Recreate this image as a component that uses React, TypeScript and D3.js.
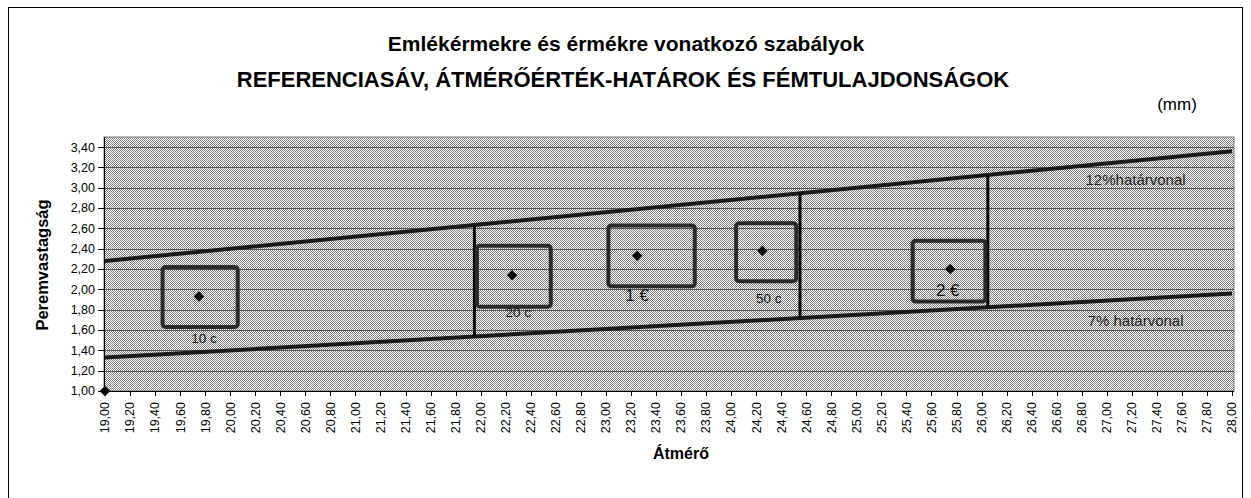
import React from 'react';
import * as d3 from 'd3';

// ---- data ----
const titleLine1 = 'Emlékérmekre és érmékre vonatkozó szabályok';
const titleLine2 = 'REFERENCIASÁV, ÁTMÉRŐÉRTÉK-HATÁROK ÉS FÉMTULAJDONSÁGOK';
const unitLabel = '(mm)';
const xAxisTitle = 'Átmérő';
const yAxisTitle = 'Peremvastagság';

const xTickLabels = [
  '19,00','19,20','19,40','19,60','19,80','20,00','20,20','20,40','20,60','20,80',
  '21,00','21,20','21,40','21,60','21,80','22,00','22,20','22,40','22,60','22,80',
  '23,00','23,20','23,40','23,60','23,80','24,00','24,20','24,40','24,60','24,80',
  '25,00','25,20','25,40','25,60','25,80','26,00','26,20','26,40','26,60','26,80',
  '27,00','27,20','27,40','27,60','27,80','28,00',
];
const yTickLabels = ['1,00','1,20','1,40','1,60','1,80','2,00','2,20','2,40','2,60','2,80','3,00','3,20','3,40'];

// coins
const coinNames = ['10 c', '20 c', '1 €', '50 c', '2 €'];
const coinDiameter = [19.75, 22.25, 23.25, 24.25, 25.75];
const coinThickness = [1.93, 2.14, 2.33, 2.38, 2.2];
const boxXMin = [19.46, 21.97, 23.02, 24.04, 25.45];
const boxXMax = [20.06, 22.56, 23.71, 24.52, 26.03];
const boxYMin = [1.63, 1.83, 2.03, 2.08, 1.88];
const boxYMax = [2.22, 2.43, 2.63, 2.65, 2.48];
const labelX = [19.79, 22.3, 23.25, 24.3, 25.73];
const labelY = [1.52, 1.77, 1.94, 1.91, 1.99];
const labelBig = [false, false, true, false, true];

// origin marker
const originPoint = [19.0, 1.0];

// reference (limit) lines
const refLineX = [19, 28];
const upperLimit = [2.28, 3.36]; // 12%
const lowerLimit = [1.33, 1.96]; // 7%
const upperLabel = '12%határvonal';
const lowerLabel = '7% határvonal';
const limitLabelX = 27.23;
const upperLabelY = 3.08;
const lowerLabelY = 1.69;

// boundary verticals
const boundaryX = [21.95, 24.55, 26.05];

export default function App() {
  const W = 1251, H = 498;
  const x = d3.scaleLinear().domain([19, 28]).range([105, 1232]);
  const y = d3.scaleLinear().domain([1, 3.5]).range([391, 137]);
  const plotL = 104, plotR = 1234, plotT = y(3.5), plotB = y(1);

  const upper = d3.scaleLinear().domain(refLineX).range(upperLimit);
  const lower = d3.scaleLinear().domain(refLineX).range(lowerLimit);
  const line = d3.line<number[]>().x(d => x(d[0])).y(d => y(d[1]));

  const xVals = xTickLabels.map(s => parseFloat(s.replace(',', '.')));
  const yVals = yTickLabels.map(s => parseFloat(s.replace(',', '.')));

  const font = 'Liberation Sans, Arial, sans-serif';
  const diamond = d3.symbol().type(d3.symbolSquare).size(55)() as string;

  return (
    <svg width={W} height={H} style={{ position: 'absolute', left: 0, top: 0 }} fontFamily={font}>
      <defs>
        <pattern id="dots" width={2} height={2} patternUnits="userSpaceOnUse">
          <rect width={2} height={2} fill="#ffffff" />
          <rect x={0} y={0} width={1} height={1} fill="#808080" />
          <rect x={1} y={1} width={1} height={1} fill="#808080" />
        </pattern>
      </defs>
      <rect x={0} y={0} width={W} height={H} fill="#fff" />
      <rect x={8.5} y={7.5} width={1234} height={520} fill="none" stroke="#000" strokeWidth={1} />

      <text x={626} y={51} textAnchor="middle" fontSize={21} fontWeight="bold">{titleLine1}</text>
      <text x={623} y={87} textAnchor="middle" fontSize={22} fontWeight="bold">{titleLine2}</text>
      <text x={1177} y={110} textAnchor="middle" fontSize={17}>{unitLabel}</text>

      {/* plot area */}
      <rect x={plotL} y={plotT} width={plotR - plotL} height={plotB - plotT} fill="url(#dots)" stroke="#777" strokeWidth={1} />

      {/* gridlines */}
      {yVals.slice(1).map((v, i) => (
        <line key={'g' + i} x1={plotL} x2={plotR} y1={Math.round(y(v)) + 0.5} y2={Math.round(y(v)) + 0.5} stroke="#555" strokeWidth={1} />
      ))}

      {/* axes */}
      <line x1={plotL} x2={plotR} y1={plotB + 0.5} y2={plotB + 0.5} stroke="#000" />
      <line x1={plotL + 0.5} x2={plotL + 0.5} y1={plotT} y2={plotB} stroke="#000" />
      {yVals.map((v, i) => (
        <g key={'yt' + i}>
          <line x1={plotL - 6} x2={plotL} y1={Math.round(y(v)) + 0.5} y2={Math.round(y(v)) + 0.5} stroke="#000" />
          <text x={95} y={y(v)} dy="0.35em" textAnchor="end" fontSize={12.5}>{yTickLabels[i]}</text>
        </g>
      ))}
      {xVals.map((v, i) => (
        <g key={'xt' + i}>
          <line x1={Math.round(x(v)) + 0.5} x2={Math.round(x(v)) + 0.5} y1={plotB} y2={plotB + 5} stroke="#000" />
          <text transform={`translate(${x(v)},${plotB + 11}) rotate(-90)`} textAnchor="end" dy="0.35em" fontSize={12.5}>{xTickLabels[i]}</text>
        </g>
      ))}

      <text transform={`translate(48,265) rotate(-90)`} textAnchor="middle" fontSize={16.5} fontWeight="bold">{yAxisTitle}</text>
      <text x={681} y={459} textAnchor="middle" fontSize={16} fontWeight="bold">{xAxisTitle}</text>

      {/* limit lines */}
      <path d={line(refLineX.map((xv, i) => [xv, upperLimit[i]])) as string} stroke="#1a1a1a" strokeWidth={4} fill="none" />
      <path d={line(refLineX.map((xv, i) => [xv, lowerLimit[i]])) as string} stroke="#1a1a1a" strokeWidth={4} fill="none" />
      <text x={x(limitLabelX)} y={y(upperLabelY)} dy="0.35em" textAnchor="middle" fontSize={15} fill="#222">{upperLabel}</text>
      <text x={x(limitLabelX)} y={y(lowerLabelY)} dy="0.35em" textAnchor="middle" fontSize={15} fill="#222">{lowerLabel}</text>

      {/* boundaries */}
      {boundaryX.map((b, i) => (
        <line key={'b' + i} x1={x(b)} x2={x(b)} y1={y(lower(b))} y2={y(upper(b))} stroke="#000" strokeWidth={3} />
      ))}

      {/* coin boxes */}
      {coinNames.map((n, i) => (
        <g key={'c' + i}>
          <rect x={x(boxXMin[i])} y={y(boxYMax[i])} width={x(boxXMax[i]) - x(boxXMin[i])} height={y(boxYMin[i]) - y(boxYMax[i])}
            fill="none" stroke="#2a2a2a" strokeWidth={4} rx={3} />
          <path d={diamond} transform={`translate(${x(coinDiameter[i])},${y(coinThickness[i])}) rotate(45)`} fill="#000" />
          <text x={x(labelX[i])} y={y(labelY[i])} dy="0.35em" textAnchor="middle" fontSize={labelBig[i] ? 17 : 13.5} fill="#111">{n}</text>
        </g>
      ))}

      <path d={diamond} transform={`translate(${x(originPoint[0])},${y(originPoint[1])}) rotate(45)`} fill="#000" />
    </svg>
  );
}
